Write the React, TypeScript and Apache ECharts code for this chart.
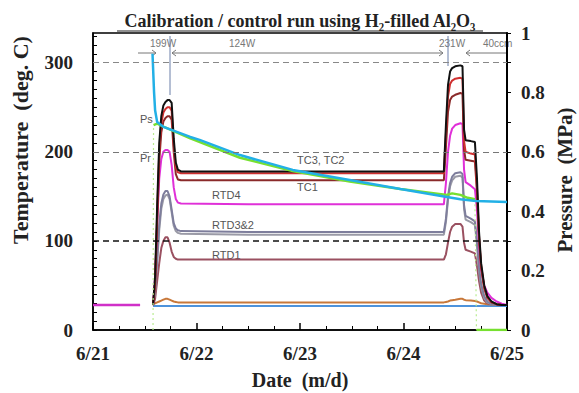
import React, { useEffect, useRef } from 'react';
import * as echarts from 'echarts';

// x values: days since 6/21 00:00
const dayLabels = ['6/21', '6/22', '6/23', '6/24', '6/25'];

// Temperature series (deg C)
const tT = [0.58, 0.60, 0.62, 0.64, 0.66, 0.68, 0.70, 0.72, 0.74, 0.76, 0.78, 0.80, 0.82, 0.85, 1.5, 2.5, 3.39, 3.41, 3.43, 3.45, 3.47, 3.50, 3.55, 3.57, 3.585, 3.60, 3.65, 3.69, 3.71, 3.73, 3.75, 3.78, 3.81, 3.85, 3.90, 3.95, 4.0];
const TC3 = [28, 60, 140, 210, 240, 252, 256, 258, 258, 255, 215, 188, 180, 178, 178, 178, 178, 230, 275, 290, 294, 296, 297, 296, 225, 213, 212, 211, 170, 110, 75, 50, 38, 32, 29, 28, 28];
const TC2 = [28, 55, 130, 200, 232, 244, 248, 250, 250, 246, 208, 183, 177, 176, 176, 176, 176, 220, 262, 276, 280, 282, 283, 282, 212, 200, 198, 197, 160, 105, 72, 48, 37, 31, 29, 28, 28];
const TC1 = [28, 50, 120, 190, 222, 234, 238, 240, 240, 236, 200, 175, 169, 168, 168, 168, 168, 205, 245, 258, 262, 264, 266, 265, 202, 191, 190, 189, 155, 102, 70, 47, 36, 31, 29, 28, 28];
const RTD4 = [28, 60, 120, 170, 192, 200, 202, 202, 200, 185, 160, 147, 143, 142, 141, 141, 141, 165, 200, 218, 226, 230, 232, 231, 180, 166, 162, 158, 135, 95, 68, 50, 42, 36, 32, 29.5, 28];
const RTD3 = [28, 45, 80, 118, 142, 152, 156, 156, 150, 135, 120, 114, 112, 111, 110, 110, 110, 125, 150, 165, 172, 176, 177, 175, 140, 128, 125, 122, 100, 70, 52, 38, 32, 29, 28, 28, 28];
const RTD2 = [28, 43, 76, 112, 136, 147, 151, 152, 147, 132, 117, 111, 109, 108, 107, 107, 107, 121, 146, 161, 168, 172, 173, 171, 136, 124, 121, 118, 96, 66, 49, 36, 31, 29, 28, 28, 28];
const RTD1 = [28, 35, 55, 75, 92, 100, 104, 104, 98, 88, 82, 80, 79, 79, 79, 79, 79, 85, 98, 110, 116, 119, 119, 116, 98, 90, 88, 86, 72, 55, 42, 33, 30, 29, 28, 28, 28];
const BASE_O = [29, 30, 31, 32, 33, 34, 35, 35, 34, 33, 32, 31.5, 31, 31, 31, 31, 31, 31.5, 32, 33, 33.5, 34, 35, 35, 34, 33.5, 33, 32.5, 32, 31, 30, 29.5, 29, 28.5, 28, 28, 28];
const tB = [0.58, 4.0];
const BASE_B = [27, 27];
const tPre = [0.0, 0.455];
const PRE = [28, 28];

// Pressure series (MPa)
const tPs = [0.575, 0.59, 0.60, 0.62, 0.68, 0.94, 1.03, 1.42, 1.93, 2.48, 2.97, 3.42, 3.55, 3.7, 4.0];
const PS = [0.93, 0.80, 0.74, 0.70, 0.684, 0.65, 0.64, 0.589, 0.539, 0.505, 0.475, 0.448, 0.44, 0.434, 0.431];
const tPr = [0.585, 0.62, 0.68, 0.94, 1.42, 1.93, 2.48, 2.97, 3.42, 3.47, 3.55, 3.62, 3.69];
const PR = [0.69, 0.695, 0.685, 0.645, 0.58, 0.535, 0.5, 0.475, 0.455, 0.46, 0.455, 0.445, 0.44];
const tPrRise = [0.58, 0.585];
const PR_RISE = [0.0, 0.69];
const tPrDrop = [3.69, 3.705];
const PR_DROP = [0.44, 0.0];
const tPrEnd = [3.705, 4.0];
const PR_END = [0.0, 0.0];

const refLines = [300, 200, 100];

function pairs(t: number[], v: number[]) {
  return t.map((x, i) => [x, v[i]]);
}

export default function App() {
  const ref = useRef<HTMLDivElement>(null);
  useEffect(() => {
    const chart = echarts.init(ref.current!, null, { renderer: 'svg' });
    const serif = '"Liberation Serif", "Times New Roman", serif';
    const sans = '"Liberation Sans", Arial, sans-serif';
    const mk = (name: string, t: number[], v: number[], color: string, width: number, yAxisIndex = 0, z = 2, type: any = 'solid'): any => ({
      type: 'line', name, data: pairs(t, v), yAxisIndex, symbol: 'none', showSymbol: false,
      lineStyle: { color, width, type }, itemStyle: { color }, z, silent: true, animation: false,
    });
    const base = mk('base-b', tB, BASE_B, '#4d93dc', 2);
    base.markLine = {
      symbol: 'none', silent: true, label: { show: false }, animation: false,
      data: [
        { yAxis: refLines[0], lineStyle: { color: '#888', type: [6, 4], width: 1 } },
        { yAxis: refLines[1], lineStyle: { color: '#777', type: [6, 4], width: 1 } },
        { yAxis: refLines[2], lineStyle: { color: '#111', type: [6, 4], width: 1.6 } },
      ],
    };
    const txt = (x: number, y: number, text: string, size: number, color: string, extra: any = {}) => ({
      type: 'text', x, y, silent: true, rotation: extra.rotation || 0,
      style: { text, fontSize: size, fontFamily: extra.family || sans, fontWeight: extra.weight || 'normal', fill: color,
        align: extra.align || 'left', textAlign: extra.align || 'left', verticalAlign: 'middle', textVerticalAlign: 'middle' },
    });
    const seg = (x1: number, y1: number, x2: number, y2: number, color = '#777', w = 1) => ({
      type: 'line', silent: true, shape: { x1, y1, x2, y2 }, style: { stroke: color, lineWidth: w },
    });
    const head = (pts: number[][], color = '#777') => ({
      type: 'polyline', silent: true, shape: { points: pts }, style: { stroke: color, lineWidth: 1, fill: 'none' },
    });
    const graphic: any[] = [
      txt(300, 21, 'Calibration / control run using H₂-filled Al₂O₃', 18, '#222', { align: 'center', weight: 'bold', family: serif }),
      seg(117, 31, 483, 31, '#222', 1.2),
      txt(20, 140, 'Temperature  (deg. C)', 22, '#222', { align: 'center', weight: 'bold', family: serif, rotation: Math.PI / 2 }),
      txt(565, 180, 'Pressure  (MPa)', 21, '#222', { align: 'center', weight: 'bold', family: serif, rotation: Math.PI / 2 }),
      txt(300, 380, 'Date  (m/d)', 20, '#222', { align: 'center', weight: 'bold', family: serif }),
      // top annotations
      txt(150, 43, '199W', 10, '#777'),
      txt(229, 43, '124W', 10, '#777'),
      txt(439, 43, '231W', 10, '#777'),
      txt(483, 43, '40ccm', 10, '#777'),
      seg(170, 36, 170, 95, '#6a7fa8', 1),
      seg(448, 36, 448, 66, '#6a7fa8', 1),
      seg(138, 53, 156, 53), head([[152, 50], [156, 53], [152, 56]]),
      seg(172, 53, 443, 53), head([[176, 50], [172, 53], [176, 56]]), head([[439, 50], [443, 53], [439, 56]]),
      seg(466, 53, 507, 53), head([[470, 50], [466, 53], [470, 56]]),
      // curve labels
      txt(140, 119, 'Ps', 11, '#555'),
      txt(140, 158, 'Pr', 11, '#555'),
      txt(297, 160, 'TC3, TC2', 11, '#555'),
      txt(297, 187, 'TC1', 11, '#555'),
      txt(212, 195, 'RTD4', 11, '#555'),
      txt(212, 225, 'RTD3&2', 11, '#555'),
      txt(212, 255, 'RTD1', 11, '#555'),
    ];
    chart.setOption({
      animation: false,
      backgroundColor: '#fff',
      grid: { left: 93, right: 72, top: 33, bottom: 63, show: true, borderColor: '#000', borderWidth: 1.5, backgroundColor: 'transparent' },
      xAxis: {
        type: 'value', min: 0, max: 4, interval: 1,
        axisLine: { show: true, lineStyle: { color: '#000', width: 1.5 } },
        axisTick: { show: true, inside: true, length: 7, lineStyle: { color: '#000', width: 1.5 } },
        minorTick: { show: true, splitNumber: 4, length: 4, lineStyle: { color: '#000', width: 1 } },
        splitLine: { show: false }, minorSplitLine: { show: false },
        axisLabel: { formatter: (v: number) => dayLabels[Math.round(v)] || '', fontFamily: serif, fontWeight: 'bold', fontSize: 19, color: '#222', margin: 14 },
      },
      yAxis: [
        {
          type: 'value', min: 0, max: 1000 / 3, interval: 10, position: 'left',
          axisLine: { show: true, lineStyle: { color: '#000', width: 1.5 } },
          axisTick: { show: true, inside: true, length: 4, lineStyle: { color: '#000', width: 1 } },
          splitLine: { show: false },
          axisLabel: {
            showMaxLabel: false,
            formatter: (v: number) => (Math.abs(v - Math.round(v / 100) * 100) < 0.01 ? String(Math.round(v)) : ''),
            fontFamily: serif, fontWeight: 'bold', fontSize: 19, color: '#222', margin: 20,
          },
        },
        {
          type: 'value', min: 0, max: 1, interval: 0.1, position: 'right',
          axisLine: { show: true, lineStyle: { color: '#000', width: 2 } },
          axisTick: { show: true, inside: false, length: 4, lineStyle: { color: '#000', width: 1 } },
          splitLine: { show: false },
          axisLabel: {
            formatter: (v: number) => {
              const k = Math.round(v * 10);
              if (k % 2 !== 0) return '';
              if (k === 0) return '0';
              if (k === 10) return '1';
              return (k / 10).toFixed(1);
            },
            fontFamily: serif, fontWeight: 'bold', fontSize: 19, color: '#222', margin: 14,
          },
        },
      ],
      series: [
        base,
        mk('base-o', tT, BASE_O, '#c8783a', 2),
        mk('pre', tPre, PRE, '#d030c8', 2.5),
        mk('RTD1', tT, RTD1, '#9a5060', 2),
        mk('RTD2', tT, RTD2, '#9a9aa6', 2),
        mk('RTD3', tT, RTD3, '#7e7e9c', 2),
        mk('RTD4', tT, RTD4, '#e030d8', 2),
        mk('TC1', tT, TC1, '#8a2a2a', 2),
        mk('TC2', tT, TC2, '#d03030', 2),
        mk('TC3', tT, TC3, '#111111', 2),
        mk('Pr-rise', tPrRise, PR_RISE, '#b8ec90', 1.2, 1, 3, [2, 3]),
        mk('Pr-drop', tPrDrop, PR_DROP, '#b8ec90', 1.2, 1, 3, [2, 3]),
        mk('Pr-end', tPrEnd, PR_END, '#77e030', 2.5, 1, 3),
        mk('Pr', tPr, PR, '#77e030', 2.5, 1, 3),
        mk('Ps', tPs, PS, '#22b0e6', 2.5, 1, 3),
      ],
      graphic,
    });
    return () => chart.dispose();
  }, []);
  return <div ref={ref} style={{ position: 'absolute', left: 0, top: 0, width: 579, height: 393 }} />;
}
